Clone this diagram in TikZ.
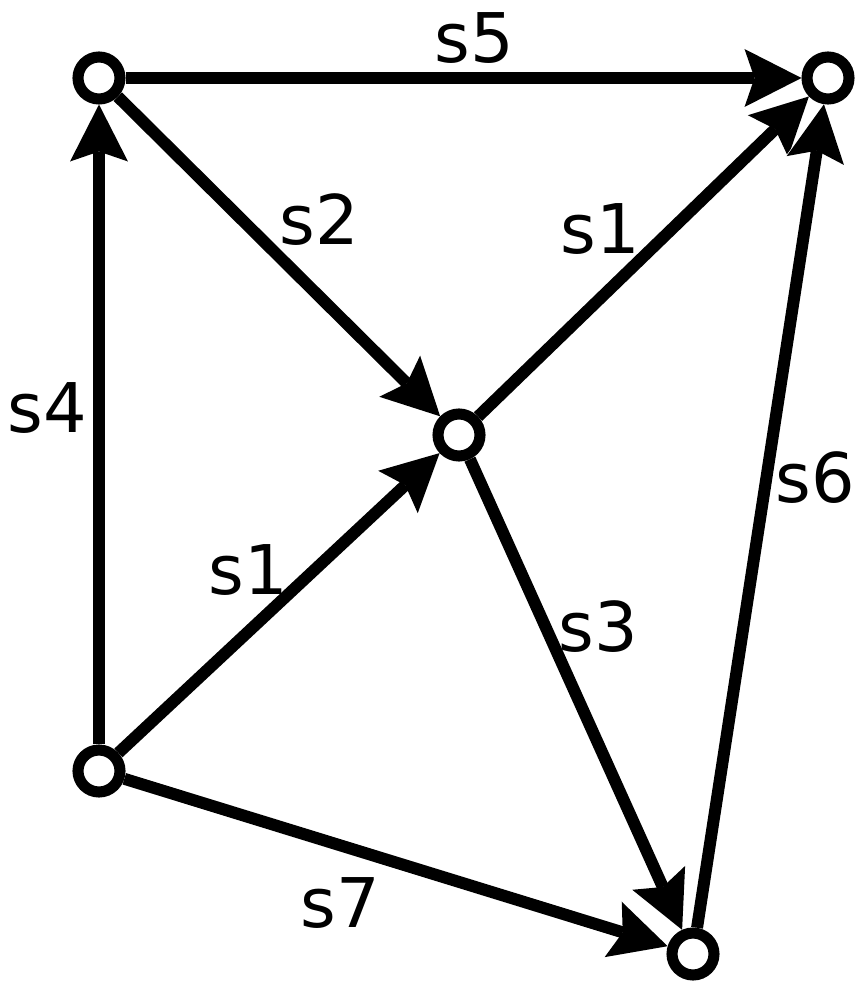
\documentclass[tikz,border=0pt]{standalone}
\usepackage{fontspec}
\setmainfont{DejaVu Sans}
\usetikzlibrary{arrows.meta}
\begin{document}
\begin{tikzpicture}[x=0.02cm,y=-0.02cm,
        vertex/.style={circle,draw,fill=white,line width=6.3pt,minimum size=0.84cm,inner sep=0pt},
        link/.style={line width=6.8pt,-{Stealth[length=1.14cm,width=1.16cm,inset=0.2cm,line width=0pt]},
            preaction={draw=white,-{Stealth[length=1.28cm,width=1.34cm,inset=0.2cm,line width=0pt]}}},
        lbl/.style={inner sep=0pt,font=\fontsize{39}{39}\selectfont}]
    \useasboundingbox (0,0) rectangle (867,996);
    \node[vertex] (nw) at (99,78) {};
    \node[vertex] (ne) at (828,78) {};
    \node[vertex] (c) at (459,435) {};
    \node[vertex] (sw) at (99,771) {};
    \node[vertex] (se) at (693,954) {};
    \draw[link] (nw) -- (ne);
    \draw[link] (nw) -- (c);
    \draw[link] (sw) -- (nw);
    \draw[link] (sw) -- (c);
    \draw[link] (c) -- (ne);
    \draw[link] (sw) -- (se);
    \draw[link] (c) -- (se);
    \draw[link] (se) -- (ne);
    \node[lbl] (l5) at (474,38) {s5};
    \node[lbl] (l4) at (47,408) {s4};
    \node[lbl] (l2) at (319,220) {s2};
    \node[lbl] (l1a) at (600,229) {s1};
    \node[lbl] (l1b) at (248,570) {s1};
    \node[lbl] (l3) at (598,627) {s3};
    \node[lbl] (l6) at (815,478) {s6};
    \node[lbl] (l7) at (340,903) {s7};
\end{tikzpicture}
\end{document}
